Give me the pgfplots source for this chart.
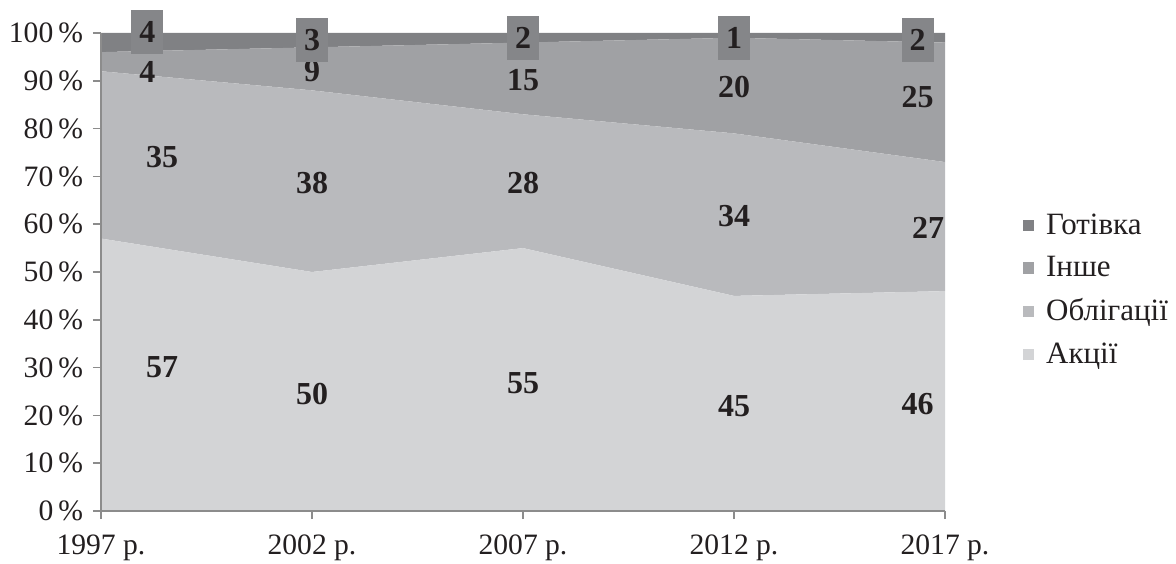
\documentclass[border=0pt]{standalone}
\usepackage{fontspec}
\setmainfont{Liberation Serif}
\usepackage{pgfplots}
\pgfplotsset{compat=1.18}
\usepackage{pgfplotstable}

\definecolor{cash}{RGB}{128,129,132}
\definecolor{other}{RGB}{160,161,164}
\definecolor{bonds}{RGB}{185,186,189}
\definecolor{stocks}{RGB}{211,212,214}
\definecolor{boxgray}{RGB}{133,134,137}
\definecolor{axgray}{RGB}{140,140,140}
\definecolor{ink}{RGB}{35,31,32}

% shares of the portfolio, %
\pgfplotstableread{
x stocks bonds other cash
0 57 35 4  4
1 50 38 9  3
2 55 28 15 2
3 45 34 20 1
4 46 27 25 2
}\shares

% label positions (x, y in axis units)
\pgfplotstableread{
x    y    lab
0.29 30.1 57
1    24.5 50
2    26.8 55
3    22.0 45
3.87 22.4 46
0.29 74.0 35
1    68.6 38
2    68.6 28
3    61.7 34
3.92 59.2 27
0.22 91.8 4
1    92.0 9
2    90.2 15
3    88.7 20
3.87 86.6 25
}\labels

\pgfplotstableread{
x    y     lab
0.22 100.2 4
1    98.5  3
2    99.0  2
3    99.0  1
3.87 98.5  2
}\cashlabels

\begin{document}
\begin{tikzpicture}
\pgfplotsset{base/.style={
  scale only axis, width=422pt, height=239pt,
  xmin=0, xmax=4, ymin=0, ymax=100}}
\begin{axis}[
  base,
  stack plots=y,
  axis on top,
  axis lines*=left,
  axis line style={axgray, line width=0.8pt},
  tick style={axgray, line width=0.8pt},
  tick align=outside,
  major tick length=4pt,
  xtick={0,1,2,3,4},
  xticklabels={1997 р., 2002 р., 2007 р., 2012 р., 2017 р.},
  ytick={0,10,...,100},
  yticklabel={\pgfmathprintnumber{\tick}\,\%},
  /pgf/number format/assume math mode=true,
  ticklabel style={font=\fontsize{14.8}{16}\selectfont, text=ink},
  xticklabel style={yshift=-4.5pt},
  yticklabel style={xshift=-1.5pt},
  reverse legend,
  legend cell align=left,
  legend style={draw=none, at={(1.085,0.462)}, anchor=west,
    font=\fontsize{15.5}{17}\selectfont, text=ink, row sep=6.5pt,
    nodes={inner sep=1.5pt}},
  legend image code/.code={\fill[#1] (0pt,-2.8pt) rectangle (5.6pt,2.8pt);
    \path (10pt,0pt);},
]
\addplot[fill=stocks, draw=none] table[x=x, y=stocks]{\shares} \closedcycle;
\addlegendentry{Акції}
\addplot[fill=bonds, draw=none] table[x=x, y=bonds]{\shares} \closedcycle;
\addlegendentry{Облігації}
\addplot[fill=other, draw=none] table[x=x, y=other]{\shares} \closedcycle;
\addlegendentry{Інше}
\addplot[fill=cash, draw=none] table[x=x, y=cash]{\shares} \closedcycle;
\addlegendentry{Готівка}
\end{axis}

\begin{axis}[base, hide axis, clip=false]
\addplot[draw=none, nodes near coords, point meta=explicit symbolic,
  every node near coord/.append style={anchor=center,
    font=\fontsize{16}{18}\selectfont\bfseries, text=ink}]
  table[x=x, y=y, meta=lab]{\labels};
\addplot[draw=none, nodes near coords, point meta=explicit symbolic,
  every node near coord/.append style={anchor=center, fill=boxgray,
    minimum width=16pt, minimum height=22pt, inner sep=0pt,
    font=\fontsize{16}{18}\selectfont\bfseries, text=ink}]
  table[x=x, y=y, meta=lab]{\cashlabels};
\end{axis}

\pgfresetboundingbox
\path[use as bounding box] (current axis.south west) ++(-50.5pt,-26pt)
  rectangle ++(588pt,281.5pt);
\end{tikzpicture}
\end{document}
